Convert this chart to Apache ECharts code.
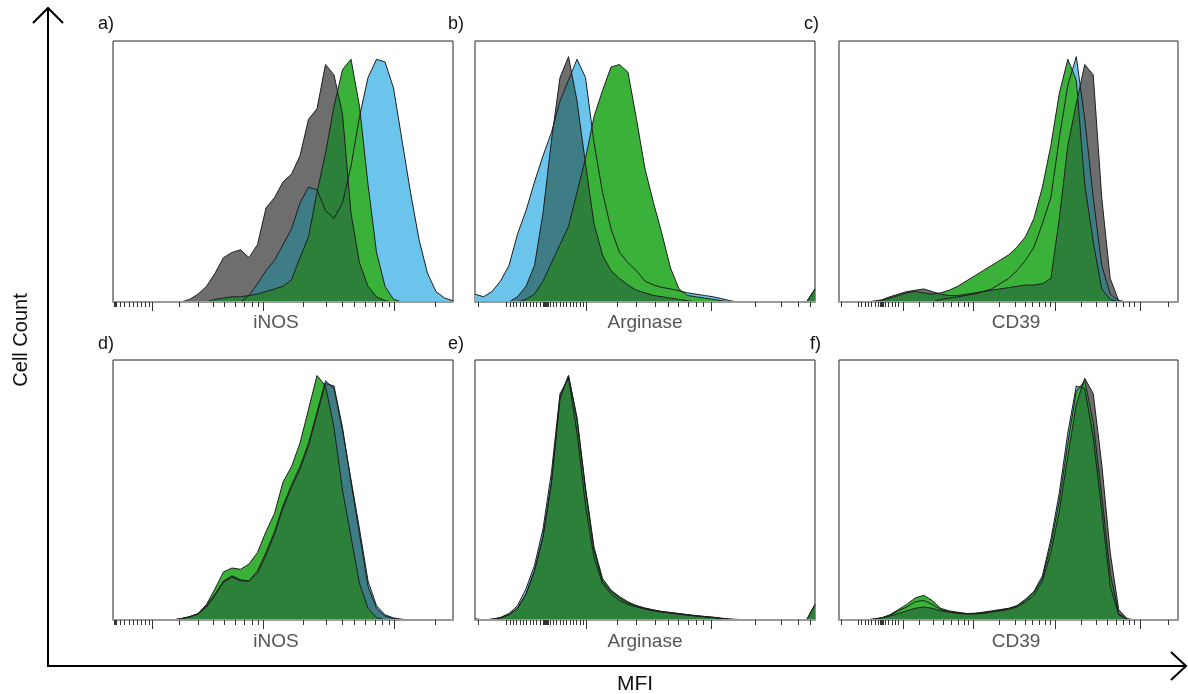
<!DOCTYPE html>
<html>
<head>
<meta charset="utf-8">
<script src="https://cdn.jsdelivr.net/npm/echarts@6/dist/echarts.min.js"></script>
<style>
html,body{margin:0;padding:0;background:#fff;}
#chart{width:1188px;height:694px;}
</style>
</head>
<body>
<div id="chart"></div>
<script>
// ---------------- DATA ----------------
// channel positions (logicle display units 0..1000)
const XS = [0,25,50,75,100,125,150,175,200,225,250,275,300,325,350,375,400,425,450,475,500,525,550,575,600,625,650,675,700,725,750,775,800,825,850,875,900,925,950,975,1000];

// % of max cell count, one value per channel position
const aGray  = [0,0,0,0,0,0,0,0,0,1,3,6,11,17,19,20,17,22,36,40,46,49,56,70,74,91,87,72,34,15,6,2,0.5,0,0,0,0,0,0,0,0];
const aBlue  = [0,0,0,0,0,0,0,0,0,0,0,0,0,0,0,0,2.5,7,12,16,22,28,38,44,43,35,32,38,52,71,86,93,92,82,62,42,24,11,4,1.5,0.5];
const aGreen = [0,0,0,0,0,0,0,0,0,0,0,0,1,1.5,2,2,2.5,3,4,5,6,8.5,17,25,42,57,75,89,93,75,45,19,6,1,0,0,0,0,0,0,0];

const bGray  = [0,0,0,0,0,2,6,14,34,62,86,94,77,53,30,18,12,9,6.5,4.5,3.5,2.5,2,1.5,1,0.5,0,0,0,0,0,0,0,0,0,0,0,0,0,0,5];
const bBlue  = [3,2,4,8,14,26,35,46,56,65,77,85,93,86,61,42,28,19,15,12,8,6.5,5.6,5,4.3,3.5,3,2.5,2,1.3,0.5,0,0,0,0,0,0,0,0,0,0];
const bGreen = [0,0,0,0,0,0,1,3,8,15,22,29,42,55,71,81,90,91,88,70,51,38,26,13,5,2.5,2,1.5,1,0.5,0,0,0,0,0,0,0,0,0,0,5];

const cGray  = [0,0,0,0,0.3,0.8,2,3,4,4.5,5,4,3,2.5,2.5,3,3.5,4,4.5,5,5.5,6,6.5,6.5,7,9,32,60,76,91,87,40,9,0.5,0,0,0,0,0,0,0];
const cBlue  = [0,0,0,0,0,0,0,0,0,0,0,0,1,1.5,2,2.5,3,4,5,7,9,12,16,21,30,40,63,83,94,70,40,14,3,0.5,0,0,0,0,0,0,0];
const cGreen = [0,0,0,0,0,0.5,1.5,2.5,3.5,4,3.5,3,3.5,4.5,6,8,10,12,14,16,18,21,25,32,44,60,80,93,85,45,23,5,1,0,0,0,0,0,0,0,0];

const dGray  = [0,0,0,0,0,0,0,0,0.5,1.2,2.3,5.5,10,15,17,15.5,15,18,25,33,43,51,58,67,79,91,90,74,53,33,13,4.5,1.5,0.6,0,0,0,0,0,0,0];
const dBlue  = [0,0,0,0,0,0,0,0,0.5,1.2,2.3,5,9.5,14.5,16.5,15,15,19,26,34,44,52,59,68,80,92,89,73,54,35,15,5.5,2,0.8,0.3,0,0,0,0,0,0];
const dGreen = [0,0,0,0,0,0,0,0,0.5,1.3,2.5,6,12,18.5,20,19.5,21.5,26,34,41,53,59,68,81,94,90,74,50,32,14,4.5,1,0,0,0,0,0,0,0,0,0];

const eGray  = [0,0,0.3,0.8,2,4.5,10,19,32,53,86,94,77,50,27,15,11,8.5,6.5,5.5,4.5,3.8,3.2,2.8,2.4,2,1.6,1.3,1,0.6,0.3,0,0,0,0,0,0,0,0,0,6];
const eBlue  = [0.5,0,0.3,1,2.5,5.5,12,21,35,57,87,93,72,44,24,14,10,7.5,6,5,4.2,3.5,3,2.6,2.2,1.8,1.5,1.2,0.9,0.5,0.2,0,0,0,0,0,0,0,0,0,0];
const eGreen = [0,0,0.3,0.8,2,4.5,10,19,32,53,85,94,78,51,28,16,11.5,9,7,5.5,4.6,3.9,3.3,2.9,2.5,2.1,1.7,1.4,1.1,0.7,0.4,0.2,0,0,0,0,0,0,0,0,6];

const fGray  = [0,0,0,0,0.3,0.8,1.5,2.5,3.5,4.5,5,4.5,3.5,3,2.5,2.3,2.3,2.5,3,3.5,4,5,7,9.5,15,26,42,63,83,93,87,60,26,4,0.5,0,0,0,0,0,0];
const fBlue  = [0,0,0,0,0.3,0.8,1.8,3.5,5,7,7.5,6,4,3.2,2.8,2.5,2.5,2.8,3.2,3.8,4.3,5.5,8,11,17,31,49,72,90,89,70,42,13,2,0.3,0,0,0,0,0,0];
const fGreen = [0,0,0,0,0.3,0.8,2,4,6,8.5,9.5,7.5,4.5,3.5,3,2.5,2.6,3,3.5,4,4.5,5.5,7.5,10.5,16,29,46,68,88,92,76,48,18,2.5,0.3,0,0,0,0,0,0];

// tick positions (channel units)
const ticksInosMinor = [4,7,10,20,34,47,59,71,83,95,106,194,250,294,328,361,387,410,428,559,627,675,711,743,770,792,812,948];
const ticksInosMajor = [116,443,828];
const ticksArgMinor  = [10,93,103,113,122,132,142,152,162,171,181,191,201,204,207,210,213,216,220,230,240,250,260,269,279,289,299,309,318,417,475,529,569,598,627,652,672,823,902,951,985];
const ticksArgMajor  = [328,696];
const ticksCdMinor   = [7,56,66,76,86,96,106,116,121,124,127,130,136,146,156,166,176,238,278,307,332,351,368,382,474,519,548,571,591,607,622,716,760,792,817,839,856,871,971];
const ticksCdMajor   = [189,396,637,888];

const markerNames  = ['iNOS','Arginase','CD39','iNOS','Arginase','CD39'];
const panelLetters = ['a)','b)','c)','d)','e)','f)'];
const yTitle = 'Cell Count';
const xTitle = 'MFI';

// ---------------- LAYOUT ----------------
const C_BLUE = '#6bc4ec', C_GRAY = '#6e6e6e', C_TEAL = '#3e7d85',
      C_GREEN = '#3ab23a', C_DKGREEN = '#2c803a', C_LINE = '#1e1e1e';

const panels = [
  {gray:aGray, blue:aBlue, green:aGreen, left:113, top:41, width:340, height:261, minor:ticksInosMinor, major:ticksInosMajor, nx:276, ny:323, lx:98, ly:15},
  {gray:bGray, blue:bBlue, green:bGreen, left:475, top:41, width:340, height:261, minor:ticksArgMinor, major:ticksArgMajor, nx:645, ny:323, lx:448, ly:15},
  {gray:cGray, blue:cBlue, green:cGreen, left:839, top:41, width:339, height:261, minor:ticksCdMinor, major:ticksCdMajor, nx:1016, ny:323, lx:804, ly:15},
  {gray:dGray, blue:dBlue, green:dGreen, left:113, top:360, width:340, height:260, minor:ticksInosMinor, major:ticksInosMajor, nx:276, ny:642, lx:98, ly:335},
  {gray:eGray, blue:eBlue, green:eGreen, left:475, top:360, width:340, height:260, minor:ticksArgMinor, major:ticksArgMajor, nx:645, ny:642, lx:448, ly:335},
  {gray:fGray, blue:fBlue, green:fGreen, left:839, top:360, width:339, height:260, minor:ticksCdMinor, major:ticksCdMajor, nx:1016, ny:642, lx:810, ly:335}
];

function pts(arr){ return XS.map((x,i)=>[x, arr[i]]); }
// pointwise overlap (minimum) of two histograms, with crossing points inserted
function overlap(a,b){
  const out=[];
  for(let i=0;i<XS.length;i++){
    out.push([XS[i], Math.min(a[i],b[i])]);
    if(i<XS.length-1){
      const d0=a[i]-b[i], d1=a[i+1]-b[i+1];
      if(d0*d1<0){
        const t=d0/(d0-d1);
        out.push([XS[i]+t*(XS[i+1]-XS[i]), a[i]+t*(a[i+1]-a[i])]);
      }
    }
  }
  return out;
}

const grid=[], xAxis=[], yAxis=[], series=[], graphic=[];
panels.forEach((p,k)=>{
  grid.push({left:p.left, top:p.top, width:p.width, height:p.height, show:true, borderColor:'#222', borderWidth:1, backgroundColor:'#fff'});
  xAxis.push({gridIndex:k, type:'value', min:0, max:1000, position:'bottom', z:10,
    axisLine:{show:true, lineStyle:{color:'#9a9a9a', width:2}},
    axisTick:{show:true, customValues:p.minor, length:5, lineStyle:{color:'#333', width:1}},
    axisLabel:{show:false}, splitLine:{show:false}});
  xAxis.push({gridIndex:k, type:'value', min:0, max:1000, position:'bottom', z:10,
    axisLine:{show:false},
    axisTick:{show:true, customValues:p.major, length:9, lineStyle:{color:'#333', width:1}},
    axisLabel:{show:false}, splitLine:{show:false}});
  yAxis.push({gridIndex:k, type:'value', min:0, max:100, show:false});
  const base = {type:'line', xAxisIndex:2*k, yAxisIndex:k, symbol:'none', silent:true, animation:false};
  const area = (data,color,z)=>Object.assign({}, base, {data, z, lineStyle:{width:0, opacity:0}, areaStyle:{color, opacity:1}});
  const line = (data)=>Object.assign({}, base, {data, z:6, lineStyle:{color:C_LINE, width:1}});
  series.push(area(pts(p.blue), C_BLUE, 2));
  series.push(area(pts(p.gray), C_GRAY, 2));
  series.push(area(overlap(p.gray,p.blue), C_TEAL, 3));
  series.push(area(pts(p.green), C_GREEN, 4));
  series.push(area(overlap(p.green,p.gray), C_DKGREEN, 5));
  series.push(line(pts(p.blue)));
  series.push(line(pts(p.gray)));
  series.push(line(pts(p.green)));
  graphic.push({type:'text', x:p.nx, y:p.ny, style:{text:markerNames[k], fill:'#555', font:'19px "Liberation Sans", Arial, sans-serif', textAlign:'center', textVerticalAlign:'middle'}});
  graphic.push({type:'text', x:p.lx, y:p.ly, style:{text:panelLetters[k], fill:'#111', font:'18px "Liberation Sans", Arial, sans-serif', textAlign:'left', textVerticalAlign:'top'}});
});

// outer axes with arrows
graphic.push({type:'line', shape:{x1:48,y1:9,x2:48,y2:667}, style:{stroke:'#000', lineWidth:2}});
graphic.push({type:'polyline', shape:{points:[[33,23],[48,8],[63,23]]}, style:{stroke:'#000', lineWidth:2, fill:null}});
graphic.push({type:'line', shape:{x1:47,y1:666,x2:1185,y2:666}, style:{stroke:'#000', lineWidth:2}});
graphic.push({type:'polyline', shape:{points:[[1171,652],[1186,666],[1171,680]]}, style:{stroke:'#000', lineWidth:2, fill:null}});
graphic.push({type:'text', x:21, y:340, rotation:Math.PI/2, style:{text:yTitle, fill:'#111', font:'20px "Liberation Sans", Arial, sans-serif', textAlign:'center', textVerticalAlign:'middle'}});
graphic.push({type:'text', x:635, y:684, style:{text:xTitle, fill:'#111', font:'21px "Liberation Sans", Arial, sans-serif', textAlign:'center', textVerticalAlign:'middle'}});

const chart = echarts.init(document.getElementById('chart'), null, {renderer:'canvas'});
chart.setOption({animation:false, backgroundColor:'#fff', grid, xAxis, yAxis, series, graphic});
</script>
</body>
</html>
